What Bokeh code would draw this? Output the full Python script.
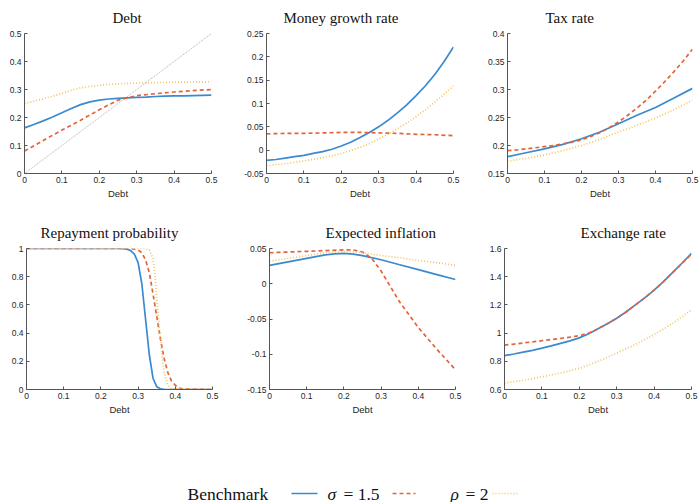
from bokeh.plotting import figure
from bokeh.layouts import column, row
from bokeh.models import Range1d, FixedTicker, CustomJSTickFormatter
from bokeh.core.properties import value
from bokeh.embed import file_html
from bokeh.resources import INLINE

# ---------------- data ----------------
debt = [0.0, 0.05, 0.1, 0.15, 0.2, 0.25, 0.3, 0.35, 0.4, 0.45, 0.5]
debt_fine = [0.0, 0.025, 0.05, 0.075, 0.1, 0.125, 0.15, 0.175, 0.2, 0.225, 0.25,
             0.275, 0.3, 0.325, 0.35, 0.375, 0.4, 0.425, 0.45, 0.475, 0.5]
x_ticks = [0, 0.1, 0.2, 0.3, 0.4, 0.5]

# Debt (next-period debt policy)
debt_bench = [0.163, 0.175, 0.188, 0.202, 0.217, 0.232, 0.246, 0.256, 0.262, 0.266, 0.268,
              0.270, 0.272, 0.273, 0.275, 0.276, 0.277, 0.277, 0.278, 0.279, 0.280]
debt_sigma = [0.080, 0.118, 0.155, 0.190, 0.228, 0.262, 0.278, 0.285, 0.291, 0.296, 0.300]
debt_rho = [0.250, 0.258, 0.267, 0.276, 0.286, 0.297, 0.306, 0.311, 0.315, 0.318, 0.320,
            0.322, 0.323, 0.324, 0.325, 0.325, 0.326, 0.326, 0.327, 0.327, 0.328]
diag_x = [0.0, 0.5]
diag_y = [0.0, 0.5]

# Money growth rate
mg_bench = [-0.022, -0.020, -0.017, -0.014, -0.011, -0.007, -0.003, 0.002, 0.009, 0.017, 0.027,
            0.038, 0.050, 0.064, 0.080, 0.097, 0.117, 0.138, 0.162, 0.190, 0.221]
mg_sigma = [0.035, 0.036, 0.036, 0.037, 0.038, 0.038, 0.037, 0.036, 0.034, 0.033, 0.031]
mg_rho = [-0.033, -0.031, -0.029, -0.026, -0.023, -0.020, -0.016, -0.012, -0.007, -0.001, 0.006,
          0.014, 0.024, 0.034, 0.046, 0.058, 0.072, 0.087, 0.103, 0.120, 0.138]

# Tax rate
tax_bench = [0.180, 0.187, 0.194, 0.202, 0.212, 0.224, 0.239, 0.254, 0.268, 0.285, 0.302]
tax_sigma = [0.191, 0.192, 0.194, 0.196, 0.198, 0.200, 0.203, 0.206, 0.210, 0.216, 0.223,
             0.232, 0.242, 0.254, 0.267, 0.281, 0.297, 0.314, 0.332, 0.351, 0.372]
tax_rho = [0.172, 0.177, 0.183, 0.191, 0.200, 0.211, 0.224, 0.236, 0.249, 0.264, 0.281]

# Repayment probability
rp_bench_x = [0.0, 0.25, 0.27, 0.28, 0.29, 0.30, 0.31, 0.32, 0.33, 0.34, 0.35, 0.36, 0.37, 0.38, 0.5]
rp_bench = [1.0, 1.0, 0.995, 0.985, 0.96, 0.90, 0.75, 0.50, 0.25, 0.08, 0.02, 0.005, 0.001, 0.0, 0.0]
rp_sigma_x = [0.0, 0.28, 0.30, 0.31, 0.32, 0.33, 0.34, 0.35, 0.36, 0.37, 0.38, 0.39, 0.40, 0.41, 0.42, 0.5]
rp_sigma = [1.0, 1.0, 0.99, 0.97, 0.92, 0.83, 0.68, 0.52, 0.36, 0.22, 0.12, 0.06, 0.03, 0.01, 0.003, 0.0]
rp_rho_x = [0.0, 0.32, 0.33, 0.34, 0.345, 0.35, 0.355, 0.36, 0.365, 0.37, 0.38, 0.39, 0.5]
rp_rho = [1.0, 1.0, 0.99, 0.93, 0.82, 0.65, 0.50, 0.36, 0.22, 0.12, 0.03, 0.005, 0.0]

# Expected inflation
ei_bench_x = [0.0, 0.05, 0.1, 0.15, 0.175, 0.2, 0.225, 0.25, 0.3, 0.35, 0.4, 0.45, 0.5]
ei_bench = [0.026, 0.031, 0.036, 0.041, 0.0425, 0.043, 0.042, 0.040, 0.034, 0.027, 0.020, 0.013, 0.006]
ei_sigma_x = [0.0, 0.05, 0.1, 0.15, 0.2, 0.225, 0.25, 0.275, 0.3, 0.325, 0.35, 0.4, 0.45, 0.5]
ei_sigma = [0.044, 0.045, 0.046, 0.047, 0.048, 0.048, 0.045, 0.036, 0.018, -0.004, -0.026, -0.062, -0.093, -0.122]
ei_rho = [0.032, 0.036, 0.040, 0.044, 0.046, 0.044, 0.040, 0.037, 0.033, 0.030, 0.026]

# Exchange rate
er_bench = [0.840, 0.852, 0.865, 0.878, 0.893, 0.909, 0.927, 0.945, 0.966, 0.995, 1.030,
            1.066, 1.105, 1.150, 1.200, 1.250, 1.305, 1.365, 1.430, 1.497, 1.565]
er_sigma = [0.915, 0.922, 0.930, 0.938, 0.946, 0.954, 0.962, 0.971, 0.982, 1.000, 1.030,
            1.066, 1.105, 1.150, 1.200, 1.250, 1.305, 1.365, 1.430, 1.495, 1.560]
er_rho = [0.645, 0.655, 0.665, 0.677, 0.690, 0.703, 0.717, 0.733, 0.750, 0.774, 0.800,
          0.828, 0.858, 0.888, 0.920, 0.954, 0.990, 1.028, 1.070, 1.116, 1.165]

legend_labels = ["Benchmark", "σ = 1.5", "ρ = 2"]

# ---------------- styles ----------------
BLUE = "#3a8ad0"
RED = "#e2643a"
YELLOW = "#f2c462"
AX = "#555555"
TXT = "#262626"
DOT = "1 2"
DASH = "4 3"

fmt = CustomJSTickFormatter(code="return String(Math.round(tick*1000)/1000);")


def panel(title, ylim, yticks, w, h, bl, br, bt, bb, toff):
    p = figure(width=w, height=h, x_range=Range1d(0, 0.5), y_range=Range1d(*ylim),
               output_backend="svg", toolbar_location=None,
               min_border_left=bl, min_border_right=br,
               min_border_top=bt, min_border_bottom=bb)
    p.title.text = title
    p.title.align = "left"
    p.title.offset = toff
    p.title.text_font = "Liberation Serif"
    p.title.text_font_size = "15px"
    p.title.text_font_style = "normal"
    p.title.text_color = "#111111"
    p.title.standoff = 15
    p.xgrid.visible = False
    p.ygrid.visible = False
    p.outline_line_color = None
    p.background_fill_color = "white"
    p.border_fill_color = "white"
    p.xaxis.ticker = FixedTicker(ticks=x_ticks)
    p.yaxis.ticker = FixedTicker(ticks=yticks)
    p.xaxis.axis_label = "Debt"
    p.xaxis.axis_label_text_font = "Liberation Sans"
    p.xaxis.axis_label_text_font_size = "9.5px"
    p.xaxis.axis_label_text_font_style = "normal"
    p.xaxis.axis_label_text_color = TXT
    p.xaxis.axis_label_standoff = 2
    for ax in (p.xaxis[0], p.yaxis[0]):
        ax.formatter = fmt
        ax.major_tick_in = 3
        ax.major_tick_out = 0
        ax.minor_tick_in = 0
        ax.minor_tick_out = 0
        ax.axis_line_color = AX
        ax.major_tick_line_color = AX
        ax.major_label_text_font = "Liberation Sans"
        ax.major_label_text_font_size = "8.5px"
        ax.major_label_text_color = TXT
        ax.major_label_standoff = 3
    return p


def curves(p, xb, yb, xs, ys, xr, yr):
    p.line(xb, yb, line_color=BLUE, line_width=1.7)
    p.line(xs, ys, line_color=RED, line_width=1.7, line_dash=DASH)
    p.line(xr, yr, line_color=YELLOW, line_width=1.7, line_dash=DOT)


p1 = panel("Debt", (0, 0.5), [0, 0.1, 0.2, 0.3, 0.4, 0.5], 238, 208, 24, 27, 33, 35, 88)
p1.line(diag_x, diag_y, line_color="#999999", line_width=0.8, line_dash="1 1")
curves(p1, debt_fine, debt_bench, debt, debt_sigma, debt_fine, debt_rho)

p2 = panel("Money growth rate", (-0.05, 0.25), [-0.05, 0, 0.05, 0.1, 0.15, 0.2, 0.25],
           231, 208, 28, 16, 33, 35, 17)
curves(p2, debt_fine, mg_bench, debt, mg_sigma, debt_fine, mg_rho)

p3 = panel("Tax rate", (0.15, 0.4), [0.15, 0.2, 0.25, 0.3, 0.35, 0.4],
           231, 208, 38, 8, 33, 35, 38)
curves(p3, debt, tax_bench, debt_fine, tax_sigma, debt, tax_rho)

p4 = panel("Repayment probability", (0, 1), [0, 0.2, 0.4, 0.6, 0.8, 1],
           238, 212, 26, 26, 40, 31, 14)
curves(p4, rp_bench_x, rp_bench, rp_sigma_x, rp_sigma, rp_rho_x, rp_rho)

p5 = panel("Expected inflation", (-0.15, 0.05), [-0.15, -0.1, -0.05, 0, 0.05],
           231, 212, 31, 14, 40, 31, 56)
curves(p5, ei_bench_x, ei_bench, ei_sigma_x, ei_sigma, debt, ei_rho)

p6 = panel("Exchange rate", (0.6, 1.6), [0.6, 0.8, 1, 1.2, 1.4, 1.6],
           231, 212, 35, 9, 40, 31, 76)
curves(p6, debt_fine, er_bench, debt_fine, er_sigma, debt_fine, er_rho)

# ---------------- legend strip ----------------
lg = figure(width=700, height=82, x_range=Range1d(0, 700), y_range=Range1d(0, 82),
            output_backend="svg", toolbar_location=None,
            x_axis_location=None, y_axis_location=None,
            min_border_left=0, min_border_right=0, min_border_top=0, min_border_bottom=0)
lg.outline_line_color = None
lg.xgrid.visible = False
lg.ygrid.visible = False
ly = 9
serif = value("Liberation Serif")
fs = "17.5px"
lg.text(x=[187], y=[ly], text=[legend_labels[0]], text_font=serif, text_font_size=fs,
        text_baseline="middle", text_align="left", text_color="#111111")
lg.line([291, 317], [ly, ly], line_color=BLUE, line_width=1.7)
lg.text(x=[327], y=[ly], text=[legend_labels[1][0]], text_font=serif, text_font_size=fs,
        text_font_style="italic", text_baseline="middle", text_align="left", text_color="#111111")
lg.text(x=[343], y=[ly], text=[legend_labels[1][2:]], text_font=serif, text_font_size=fs,
        text_baseline="middle", text_align="left", text_color="#111111")
lg.line([392, 415], [ly, ly], line_color=RED, line_width=1.7, line_dash=DASH)
lg.text(x=[450], y=[ly], text=[legend_labels[2][0]], text_font=serif, text_font_size=fs,
        text_font_style="italic", text_baseline="middle", text_align="left", text_color="#111111")
lg.text(x=[465], y=[ly], text=[legend_labels[2][2:]], text_font=serif, text_font_size=fs,
        text_baseline="middle", text_align="left", text_color="#111111")
lg.line([492, 518], [ly, ly], line_color=YELLOW, line_width=1.7, line_dash=DOT)

layout = column(row(p1, p2, p3), row(p4, p5, p6), lg)

open("out.html", "w").write(file_html(layout, INLINE))
